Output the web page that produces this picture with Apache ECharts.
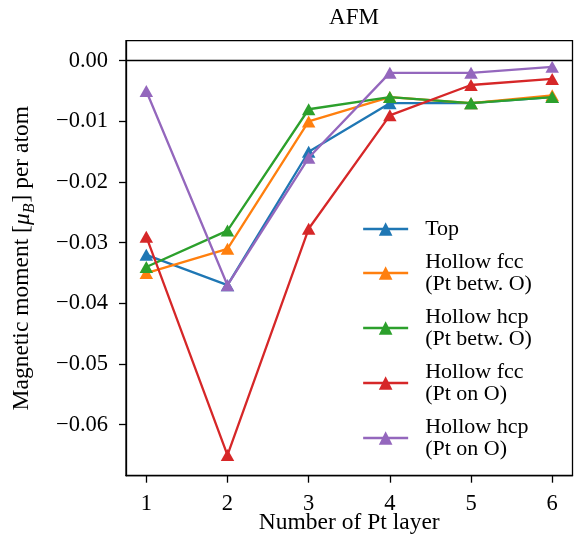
<!DOCTYPE html>
<html>
<head>
<meta charset="utf-8">
<script src="https://cdn.jsdelivr.net/npm/echarts@6/dist/echarts.min.js"></script>
<style>html,body{margin:0;padding:0;background:#fff}#c{width:575px;height:539px}</style>
</head>
<body>
<div id="c"></div>
<script>
const layers = [1, 2, 3, 4, 5, 6];
const top_ = [-0.032, -0.037, -0.015, -0.007, -0.007, -0.006];
const fccBetw = [-0.035, -0.031, -0.010, -0.006, -0.007, -0.0057];
const hcpBetw = [-0.034, -0.028, -0.008, -0.006, -0.007, -0.006];
const fccOn = [-0.029, -0.065, -0.0277, -0.009, -0.004, -0.003];
const hcpOn = [-0.005, -0.037, -0.016, -0.002, -0.002, -0.001];
const seriesNames = ['Top', 'Hollow fcc\n(Pt betw. O)', 'Hollow hcp\n(Pt betw. O)', 'Hollow fcc\n(Pt on O)', 'Hollow hcp\n(Pt on O)'];
const seriesValues = [top_, fccBetw, hcpBetw, fccOn, hcpOn];
const colors = ['#1f77b4', '#ff7f0e', '#2ca02c', '#d62728', '#9467bd'];
const yTicks = [0, -0.01, -0.02, -0.03, -0.04, -0.05, -0.06];
const xTicks = [1, 2, 3, 4, 5, 6];

const FONT = 'Liberation Serif';
const chart = echarts.init(document.getElementById('c'));

const series = seriesNames.map((name, i) => ({
  name: name,
  type: 'line',
  data: layers.map((x, j) => [x, seriesValues[i][j]]),
  symbol: 'triangle',
  symbolSize: [13.5, 12],
  showSymbol: true,
  lineStyle: { color: colors[i], width: 2.3 },
  itemStyle: { color: colors[i] },
  emphasis: { disabled: true },
  animation: false,
  z: 3 + i
}));
series[0].markLine = {
  silent: true,
  symbol: 'none',
  label: { show: false },
  lineStyle: { color: '#000', width: 1.3, type: 'solid' },
  data: [{ yAxis: 0 }],
  animation: false
};

chart.setOption({
  animation: false,
  title: {
    text: 'AFM',
    left: 349,
    top: 1,
    textAlign: 'center',
    textStyle: { fontFamily: FONT, fontSize: 23, fontWeight: 'normal', color: '#000' }
  },
  grid: {
    left: 126, right: 2.5, top: 40.7, bottom: 63.3,
    outerBoundsMode: 'none',
    containLabel: false,
    show: true, borderColor: '#000', borderWidth: 1.3, backgroundColor: 'transparent'
  },
  legend: {
    orient: 'vertical',
    left: 362,
    top: 218,
    padding: 0,
    itemWidth: 45,
    itemHeight: 17,
    itemGap: 11,
    data: seriesNames,
    lineStyle: { width: 2.3 },
    textStyle: { fontFamily: FONT, fontSize: 22, color: '#000', lineHeight: 22, padding: [0, 0, 0, 12] }
  },
  xAxis: {
    type: 'value',
    min: 0.75,
    max: 6.25,
    name: 'Number of Pt layer',
    nameLocation: 'middle',
    nameGap: 35,
    nameMoveOverlap: false,
    nameTextStyle: { fontFamily: FONT, fontSize: 23.5, color: '#000' },
    axisLine: { show: true, onZero: false, lineStyle: { color: '#000', width: 1.3 } },
    axisTick: { show: true, length: 7, lineStyle: { color: '#000', width: 1.3 }, customValues: xTicks },
    axisLabel: { fontFamily: FONT, fontSize: 22.5, color: '#000', margin: 17, customValues: xTicks, formatter: v => String(v) },
    splitLine: { show: false }
  },
  yAxis: {
    type: 'value',
    min: -0.0684,
    max: 0.0033,
    name: '{a|Magnetic moment [}{i|μ}{s|B}{a|] per atom}',
    nameLocation: 'middle',
    nameGap: 92,
    nameTextStyle: {
      fontFamily: FONT, fontSize: 23.5, color: '#000',
      rich: {
        a: { fontFamily: FONT, fontSize: 23.5, color: '#000', lineHeight: 26, verticalAlign: 'bottom' },
        i: { fontFamily: FONT, fontSize: 23.5, color: '#000', fontStyle: 'italic', lineHeight: 26, verticalAlign: 'bottom' },
        s: { fontFamily: FONT, fontSize: 16, color: '#000', fontStyle: 'italic', lineHeight: 26, verticalAlign: 'bottom', padding: [0, 1, -4, 0] }
      }
    },
    axisLine: { show: true, onZero: false, lineStyle: { color: '#000', width: 1.3 } },
    axisTick: { show: true, length: 7, lineStyle: { color: '#000', width: 1.3 }, customValues: yTicks },
    axisLabel: {
      fontFamily: FONT, fontSize: 22.5, color: '#000', margin: 18, customValues: yTicks,
      formatter: v => (Math.abs(v) < 1e-9 ? '0.00' : (v < 0 ? '\u2212' : '') + Math.abs(v).toFixed(2))
    },
    splitLine: { show: false }
  },
  series: series
});
</script>
</body>
</html>
